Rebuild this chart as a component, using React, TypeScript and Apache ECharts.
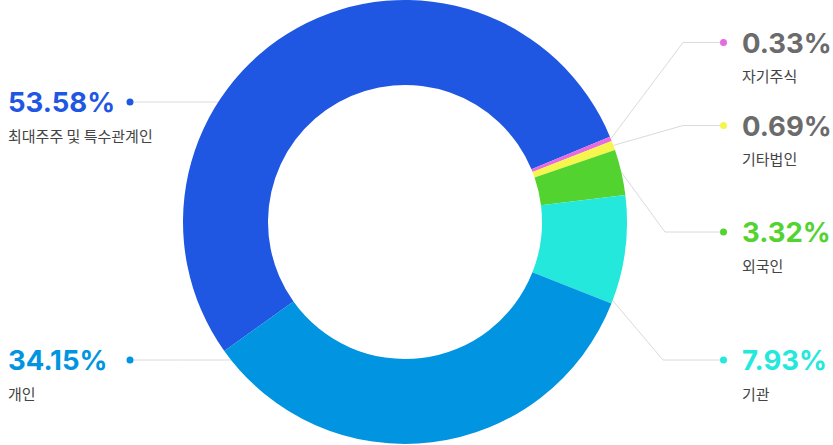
import React, { useEffect, useRef } from 'react';
import * as echarts from 'echarts';

const names = ['최대주주 및 특수관계인', '자기주식', '기타법인', '외국인', '기관', '개인'];
const values = [53.58, 0.33, 0.69, 3.32, 7.93, 34.15];
const colors = ['#1F57E3', '#E66BE0', '#F5F54B', '#52D330', '#25E8DD', '#0194E1'];
const valueColors = ['#1F57E3', '#6B6B6B', '#6B6B6B', '#52D330', '#25E8DD', '#0194E1'];

// pie geometry (px)
const CX = 405;
const CY = 222;
const R_IN = 137;
const R_OUT = 222;
const START = 215.5;

// where each label sits
const labelPos = [
  { side: 'left', dotY: 102, at: 0.5, bendX: 0 },
  { side: 'right', dotY: 42.5, bendX: 683, at: 0.5 },
  { side: 'right', dotY: 125.5, bendX: 683, at: 0.5 },
  { side: 'right', dotY: 232, bendX: 665, at: 0.5 },
  { side: 'right', dotY: 360, bendX: 663, at: 0.97 },
  { side: 'left', dotY: 360, at: 0.5, bendX: 0 },
];

const LEFT_X = 8;
const LEFT_DOT_X = 130;
const RIGHT_DOT_X = 723.5;
const DOT = 7;

export default function App() {
  const chartRef = useRef<HTMLDivElement>(null);

  useEffect(() => {
    document.body.style.margin = '0';
    if (!chartRef.current) return;
    const chart = echarts.init(chartRef.current, undefined, { renderer: 'svg' });

    const total = values.reduce((a, b) => a + b, 0);
    const cum: number[] = [];
    values.reduce((acc, v, i) => {
      cum[i] = acc;
      return acc + v;
    }, 0);

    const option: echarts.EChartsOption = {
      animation: false,
      backgroundColor: '#fff',
      series: [
        {
          type: 'pie',
          center: [CX, CY],
          radius: [R_IN, R_OUT],
          startAngle: START,
          clockwise: true,
          avoidLabelOverlap: false,
          silent: true,
          data: names.map((name, i) => ({
            name,
            value: values[i],
            itemStyle: { color: colors[i] },
            label: {
              formatter:
                labelPos[i].side === 'left'
                  ? `{v|${values[i].toFixed(2)}%}{dot|}\n{n|${name}}`
                  : `{dot|}{sp|}{v|${values[i].toFixed(2)}%}\n{sp2|}{n|${name}}`,
              rich: {
                v: {
                  fontFamily: 'Inter, sans-serif',
                  fontWeight: 700,
                  fontSize: 27.5,
                  lineHeight: 36,
                  color: valueColors[i],
                  width: labelPos[i].side === 'left' ? LEFT_DOT_X - DOT / 2 - LEFT_X : undefined,
                },
                n: {
                  fontFamily: "'Noto Sans CJK KR', sans-serif",
                  fontSize: 15,
                  lineHeight: 30,
                  color: '#444',
                },
                dot: {
                  width: DOT,
                  height: DOT,
                  borderRadius: DOT / 2,
                  backgroundColor: colors[i],
                },
                sp: { width: 15 },
                sp2: { width: 22 },
              },
            },
          })),
          label: {
            show: true,
            align: 'left',
          },
          labelLine: {
            show: true,
            lineStyle: { color: '#DADADA', width: 1 },
          },
          labelLayout: (params: any) => {
            const i = params.dataIndex;
            const p = labelPos[i];
            const top = p.dotY - 18;
            if (p.side === 'left') {
              const ringX = CX - Math.sqrt(R_OUT * R_OUT - (p.dotY - CY) * (p.dotY - CY));
              return {
                x: LEFT_X,
                y: top,
                align: 'left',
                verticalAlign: 'top',
                labelLinePoints: [
                  [ringX, p.dotY],
                  [(ringX + LEFT_DOT_X) / 2, p.dotY],
                  [LEFT_DOT_X, p.dotY],
                ],
              };
            }
            const ang = ((-START + ((cum[i] + values[i] * p.at) / total) * 360) * Math.PI) / 180;
            const sx = CX + R_OUT * Math.cos(ang);
            const sy = CY + R_OUT * Math.sin(ang);
            return {
              x: RIGHT_DOT_X - DOT / 2,
              y: top,
              align: 'left',
              verticalAlign: 'top',
              labelLinePoints: [
                [sx, sy],
                [p.bendX, p.dotY],
                [RIGHT_DOT_X, p.dotY],
              ],
            };
          },
        },
      ],
    };

    chart.setOption(option);
    return () => {
      chart.dispose();
    };
  }, []);

  return (
    <div
      ref={chartRef}
      style={{ position: 'fixed', left: 0, top: 0, width: 833, height: 445 }}
    />
  );
}
